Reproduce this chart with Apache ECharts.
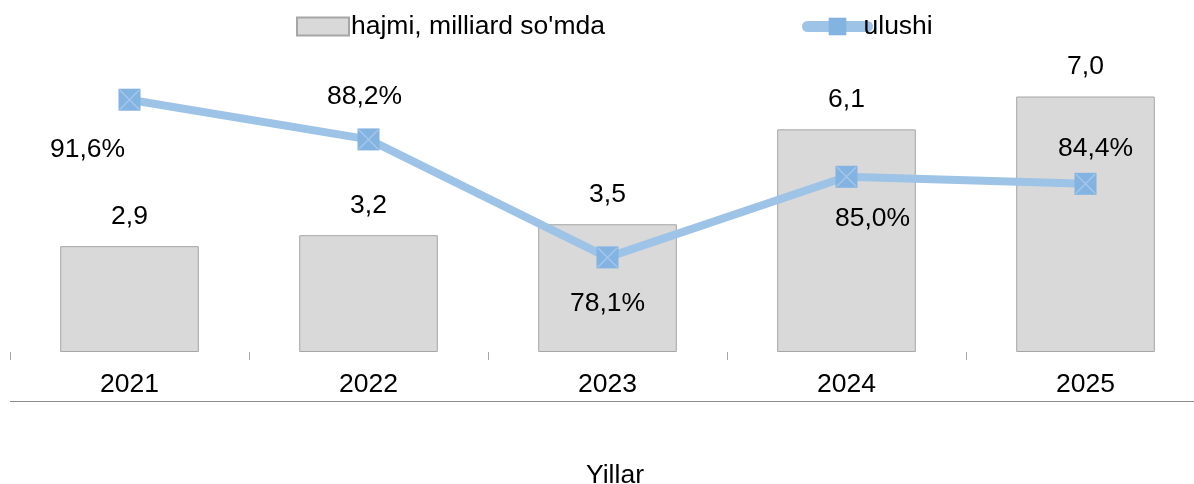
<!DOCTYPE html>
<html>
<head>
<meta charset="utf-8">
<script src="https://cdn.jsdelivr.net/npm/echarts@6/dist/echarts.min.js"></script>
<style>
  html, body { margin: 0; padding: 0; background: #fff; }
  #chart { width: 1194px; height: 484px; }
</style>
</head>
<body>
<div id="chart"></div>
<script>
// data
var years = ["2021", "2022", "2023", "2024", "2025"];
var volume = [2.9, 3.2, 3.5, 6.1, 7.0];
var share = [91.6, 88.2, 78.1, 85.0, 84.4];
// where each share label sits relative to its point
var shareLabelOffset = [[-42, 50], [-4, -43], [0, 46], [26, 42], [10, -35]];

var fmt = function (v, digits) {
  return v.toFixed(digits).replace(".", ",");
};

var FS = 26.5;
var chart = echarts.init(document.getElementById("chart"));

var shareData = share.map(function (v, i) {
  return {
    value: v,
    label: { offset: shareLabelOffset[i] }
  };
});

chart.setOption({
  animation: false,
  textStyle: { fontFamily: "Liberation Sans, Arial, sans-serif" },
  legend: [
    {
      left: 296,
      top: 13,
      padding: 0,
      itemWidth: 52,
      itemHeight: 18,
      itemGap: 0,
      textStyle: { fontSize: FS, color: "#000", padding: [0, 0, 0, -3] },
      data: [{ name: "hajmi, milliard so'mda", icon: "rect" }]
    },
    {
      left: 802,
      top: 13,
      padding: 0,
      itemWidth: 60,
      itemHeight: 22,
      textStyle: { fontSize: FS, color: "#000", padding: [0, 0, 0, -9] },
      data: [{ name: "ulushi", lineStyle: { width: 11, cap: "round" } }]
    }
  ],
  grid: {
    left: 10,
    right: -11,
    top: 60,
    bottom: 132,
    outerBoundsMode: "none"
  },
  xAxis: {
    type: "category",
    data: years,
    name: "Yillar",
    nameLocation: "middle",
    nameGap: 110,
    nameTextStyle: { fontSize: FS, color: "#000", padding: [0, 0, 0, 15] },
    axisLine: { show: false },
    axisTick: { show: true, length: 8, lineStyle: { color: "#a6a6a6" } },
    axisLabel: { fontSize: FS, color: "#000", margin: 19 }
  },
  yAxis: [
    { type: "value", min: 0, max: 8, show: false },
    { type: "value", min: 70, max: 95, show: false }
  ],
  graphic: [{
    type: "line",
    shape: { x1: 10, y1: 401.5, x2: 1194, y2: 401.5 },
    style: { stroke: "#8c8c8c", lineWidth: 1 }
  }],
  series: [
    {
      name: "hajmi, milliard so'mda",
      type: "bar",
      data: volume,
      barWidth: "58%",
      itemStyle: { color: "#d9d9d9", borderColor: "#a6a6a6", borderWidth: 1 },
      label: {
        show: true,
        position: "top",
        distance: 16,
        fontSize: FS,
        color: "#000",
        formatter: function (p) { return fmt(p.value, 1); }
      }
    },
    {
      name: "ulushi",
      type: "line",
      yAxisIndex: 1,
      data: shareData,
      symbol: "rect",
      symbolSize: 22,
      lineStyle: { color: "#9dc3e6", width: 8 },
      itemStyle: { color: "#83b3e1" },
      label: {
        show: true,
        position: "inside",
        fontSize: FS,
        color: "#000",
        formatter: function (p) { return fmt(p.value, 1) + "%"; }
      },
      z: 3
    },
    {
      // light cross drawn on top of each square marker
      name: "ulushi-cross",
      type: "scatter",
      yAxisIndex: 1,
      data: share,
      symbol: "path://M0,0L1,0L20,19L20,20L19,20L0,1Z M19,0L20,0L20,1L1,20L0,20L0,19Z",
      symbolSize: 20,
      itemStyle: { color: "#acccec" },
      silent: true,
      z: 4
    }
  ]
});
</script>
</body>
</html>
